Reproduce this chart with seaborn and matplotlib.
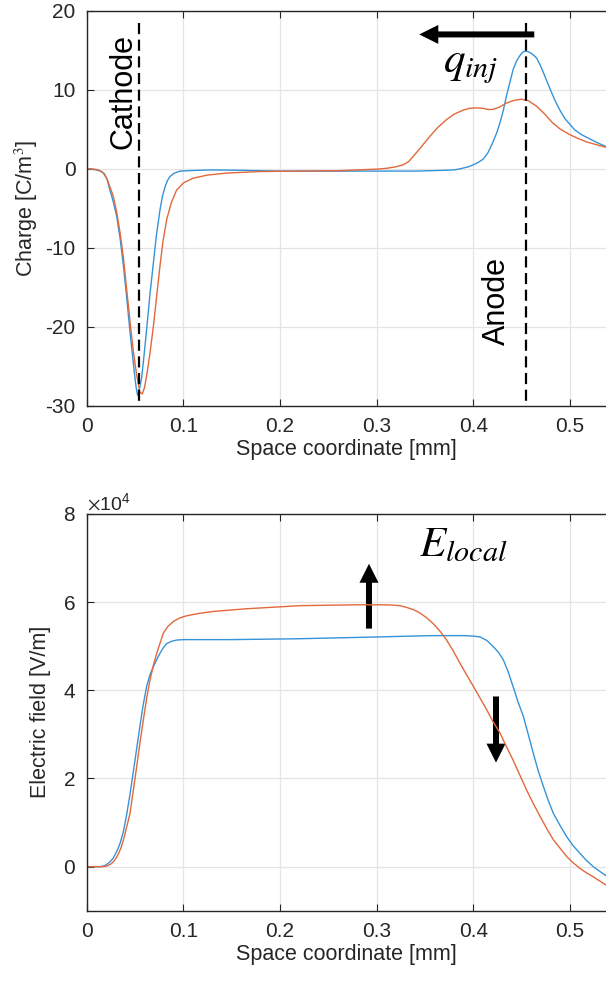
import matplotlib
matplotlib.use('Agg')
import matplotlib.pyplot as plt
import numpy as np
import seaborn as sns
from matplotlib.ticker import ScalarFormatter

# Charge profile [C/m^3]
charge_x_blue = [0, 0.005, 0.01, 0.014, 0.018, 0.021, 0.024, 0.0275, 0.031, 0.0345, 0.038,
                 0.0415, 0.0448, 0.0475, 0.05, 0.0515, 0.0527, 0.054, 0.0555, 0.0569, 0.059,
                 0.062, 0.0655, 0.069, 0.072, 0.0758, 0.0785, 0.081, 0.0835, 0.086, 0.09,
                 0.0965, 0.105, 0.115, 0.13, 0.16, 0.2, 0.25, 0.3, 0.34, 0.37, 0.38, 0.385,
                 0.39, 0.395, 0.4, 0.405, 0.41, 0.415, 0.42, 0.424, 0.4275, 0.431, 0.434,
                 0.4375, 0.441, 0.4445, 0.448, 0.451, 0.454, 0.457, 0.46, 0.463, 0.4655,
                 0.47, 0.475, 0.48, 0.485, 0.49, 0.495, 0.5, 0.505, 0.512, 0.52, 0.528, 0.5375]
charge_blue = [0, -0.05, -0.15, -0.3, -0.6, -1.3, -2.7, -4.2, -6.0, -8.8, -12.3,
               -16.5, -20.7, -23.8, -26.6, -28.0, -28.7, -28.2, -27.3, -26.4, -24.0,
               -20.3, -15.8, -11.9, -8.5, -5.2, -3.4, -2.3, -1.5, -1.0, -0.6,
               -0.3, -0.25, -0.2, -0.15, -0.2, -0.3, -0.3, -0.3, -0.3, -0.2, -0.15, -0.05,
               0.1, 0.25, 0.5, 0.8, 1.2, 2.0, 3.3, 4.5, 5.8, 7.4, 9.1,
               10.8, 12.5, 13.6, 14.3, 14.75, 14.9, 14.8, 14.6, 14.3, 14.0,
               12.9, 11.4, 9.9, 8.5, 7.3, 6.3, 5.6, 4.9, 4.3, 3.8, 3.3, 2.8]

charge_x_orange = [0, 0.005, 0.01, 0.014, 0.017, 0.021, 0.024, 0.0275, 0.031, 0.0345, 0.038,
                   0.041, 0.0445, 0.048, 0.0515, 0.055, 0.0575, 0.0598, 0.062, 0.0655, 0.069,
                   0.0725, 0.0758, 0.079, 0.0828, 0.0875, 0.093, 0.1, 0.11, 0.125, 0.145,
                   0.18, 0.22, 0.26, 0.3, 0.31, 0.32, 0.3275, 0.333, 0.338, 0.345, 0.355,
                   0.363, 0.372, 0.38, 0.389, 0.396, 0.403, 0.41, 0.415, 0.42, 0.427, 0.434,
                   0.442, 0.45, 0.457, 0.4655, 0.474, 0.482, 0.49, 0.5, 0.508, 0.517, 0.527,
                   0.5375]
charge_orange = [0, -0.03, -0.1, -0.25, -0.5, -1.3, -2.3, -3.5, -5.5, -8.1, -11.3,
                 -14.9, -19.0, -22.9, -26.0, -28.3, -28.5, -27.7, -26.2, -23.3, -19.9,
                 -16.0, -12.3, -9.1, -6.4, -4.3, -2.7, -1.8, -1.2, -0.8, -0.55,
                 -0.35, -0.3, -0.25, -0.05, 0.05, 0.25, 0.5, 0.9, 1.6, 2.6, 4.1,
                 5.2, 6.2, 6.9, 7.4, 7.65, 7.7, 7.65, 7.5, 7.5, 7.8, 8.3,
                 8.65, 8.8, 8.6, 7.9, 6.9, 5.8, 5.0, 4.3, 3.85, 3.4, 3.05,
                 2.7]

# Electric field [x1e4 V/m]
field_x_blue = [0, 0.01, 0.0139, 0.017, 0.02, 0.022, 0.024, 0.027, 0.0295, 0.032, 0.0345,
                0.038, 0.041, 0.0445, 0.048, 0.0515, 0.055, 0.0585, 0.062, 0.0655, 0.069,
                0.0725, 0.0758, 0.079, 0.0828, 0.0875, 0.093, 0.1, 0.11, 0.15, 0.22, 0.3,
                0.355, 0.39, 0.4, 0.407, 0.414, 0.4206, 0.426, 0.431, 0.436, 0.441, 0.446,
                0.4517, 0.457, 0.462, 0.467, 0.4724, 0.4775, 0.4827, 0.49, 0.4965, 0.503,
                0.5103, 0.517, 0.524, 0.531, 0.5375]
field_blue = [0, 0, 0, 0.01, 0.04, 0.07, 0.11, 0.18, 0.28, 0.39, 0.53,
              0.8, 1.14, 1.6, 2.12, 2.65, 3.18, 3.68, 4.09, 4.36, 4.54,
              4.7, 4.84, 4.96, 5.06, 5.11, 5.14, 5.15, 5.15, 5.15, 5.17, 5.21,
              5.24, 5.24, 5.23, 5.21, 5.13, 4.99, 4.86, 4.69, 4.42, 4.09, 3.75,
              3.41, 2.98, 2.57, 2.18, 1.82, 1.5, 1.21, 0.92, 0.68, 0.48,
              0.30, 0.14, 0.0, -0.11, -0.21]

field_x_orange = [0, 0.017, 0.02, 0.0225, 0.025, 0.0275, 0.03, 0.033, 0.0355, 0.038, 0.041,
                  0.0448, 0.048, 0.0517, 0.055, 0.0586, 0.062, 0.0655, 0.069, 0.0724, 0.076,
                  0.0793, 0.084, 0.0896, 0.096, 0.1034, 0.115, 0.131, 0.1655, 0.2207, 0.28,
                  0.3034, 0.315, 0.324, 0.331, 0.338, 0.345, 0.352, 0.359, 0.3655, 0.372,
                  0.379, 0.386, 0.393, 0.4, 0.407, 0.4138, 0.42, 0.4276, 0.434, 0.441, 0.448,
                  0.455, 0.462, 0.469, 0.476, 0.4827, 0.49, 0.4965, 0.503, 0.5103, 0.517,
                  0.524, 0.531, 0.5375]
field_orange = [0, 0, 0.01, 0.03, 0.06, 0.11, 0.18, 0.3, 0.43, 0.61, 0.87,
                1.21, 1.7, 2.27, 2.8, 3.33, 3.82, 4.24, 4.57, 4.84, 5.08,
                5.30, 5.45, 5.56, 5.64, 5.69, 5.74, 5.79, 5.85, 5.92, 5.94,
                5.94, 5.935, 5.92, 5.88, 5.83, 5.75, 5.64, 5.5, 5.34, 5.15,
                4.9, 4.62, 4.35, 4.09, 3.82, 3.56, 3.3, 3.03, 2.73, 2.42, 2.08,
                1.74, 1.43, 1.14, 0.86, 0.61, 0.41, 0.23, 0.09, -0.04, -0.14,
                -0.23, -0.33, -0.42]

xticks = [0, 0.1, 0.2, 0.3, 0.4, 0.5]
xtick_labels = ['0', '0.1', '0.2', '0.3', '0.4', '0.5']
charge_yticks = [-30, -20, -10, 0, 10, 20]
field_yticks = [0, 2e4, 4e4, 6e4, 8e4]

cathode_x = 0.0545
anode_x = 0.454

blue = '#3593d8'
orange = '#e2683a'

sns.set_theme(style='white')
plt.rcParams['font.family'] = ['Liberation Sans', 'DejaVu Sans']
plt.rcParams['mathtext.fontset'] = 'stix'
plt.rcParams['axes.unicode_minus'] = False

fig = plt.figure(figsize=(6.06, 9.85), dpi=100)
ax1 = fig.add_axes([0.1431, 0.5881, 0.8569, 0.4010])
ax2 = fig.add_axes([0.1431, 0.0754, 0.8569, 0.4028])


def style_axes(ax):
    ax.set_facecolor('white')
    ax.grid(True, color='#e4e4e4', lw=0.9)
    ax.set_axisbelow(True)
    for side in ['left', 'bottom', 'top']:
        ax.spines[side].set_color('#262626')
        ax.spines[side].set_linewidth(1.0)
    ax.spines['right'].set_visible(False)
    ax.tick_params(direction='in', length=5, width=0.8, colors='#262626',
                   labelsize=15, top=True, right=False, left=True, bottom=True,
                   labelcolor='#262626', pad=8)
    ax.set_xlim(0, 0.5372)
    ax.set_xticks(xticks)
    ax.set_xticklabels(xtick_labels)
    ax.set_xlabel('Space coordinate [mm]', fontsize=15.5, color='#262626', labelpad=2)


# ---- Top: charge ----
sns.lineplot(x=charge_x_blue, y=charge_blue, ax=ax1, color=blue, lw=1.0, sort=False, estimator=None)
sns.lineplot(x=charge_x_orange, y=charge_orange, ax=ax1, color=orange, lw=1.0, sort=False, estimator=None)
style_axes(ax1)
ax1.set_ylim(-30, 20)
ax1.set_yticks(charge_yticks)
ax1.set_ylabel('Charge [C/m$^3$]', fontsize=15.5, color='#262626', labelpad=4)

for xv in [cathode_x, anode_x]:
    ax1.plot([xv, xv], [18.4, -30], color='black', lw=1.6, dashes=(5, 2.5))
ax1.text(0.0385, 9.8, 'Cathode', rotation=90, ha='center', va='center', fontsize=22, color='black')
ax1.text(0.424, -16.7, 'Anode', rotation=90, ha='center', va='center', fontsize=22, color='black')
ax1.arrow(0.463, 17.0, -(0.463 - 0.344), 0, width=0.76, head_width=2.4, head_length=0.0197,
          length_includes_head=True, color='black', lw=0)
ax1.text(0.397, 13.0, r'$q_{inj}$', ha='center', va='center', fontsize=31, color='black')

# ---- Bottom: electric field ----
sns.lineplot(x=field_x_blue, y=np.array(field_blue) * 1e4, ax=ax2, color=blue, lw=1.0,
             sort=False, estimator=None)
sns.lineplot(x=field_x_orange, y=np.array(field_orange) * 1e4, ax=ax2, color=orange, lw=1.0,
             sort=False, estimator=None)
style_axes(ax2)
ax2.set_ylim(-1e4, 8e4)
ax2.set_yticks(field_yticks)
fmt = ScalarFormatter(useMathText=True)
fmt.set_powerlimits((0, 0))
ax2.yaxis.set_major_formatter(fmt)
ax2.yaxis.get_offset_text().set_fontsize(14)
ax2.yaxis.get_offset_text().set_color('#262626')
ax2.set_ylabel('Electric field [V/m]', fontsize=15.5, color='#262626', labelpad=8)

ax2.arrow(0.292, 5.4e4, 0, 1.47e4, width=0.0062, head_width=0.0197, head_length=0.43e4,
          length_includes_head=True, color='black', lw=0)
ax2.arrow(0.4234, 3.86e4, 0, -1.5e4, width=0.0062, head_width=0.0197, head_length=0.43e4,
          length_includes_head=True, color='black', lw=0)
ax2.text(0.39, 7.3e4, r'$E_{local}$', ha='center', va='center', fontsize=31, color='black')

fig.savefig('out.png', dpi=100)
